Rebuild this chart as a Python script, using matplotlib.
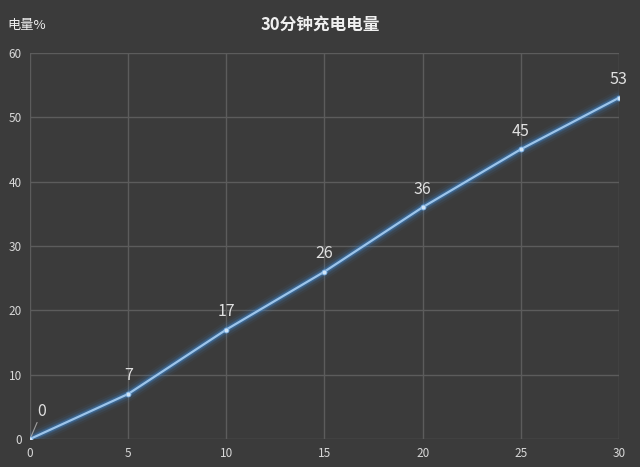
import matplotlib
matplotlib.use('Agg')
import matplotlib.pyplot as plt

plt.rcParams['font.family'] = ['Noto Sans CJK SC', 'DejaVu Sans']

minutes = [0, 5, 10, 15, 20, 25, 30]
charge = [0, 7, 17, 26, 36, 45, 53]

bg = '#3b3b3b'
fig = plt.figure(figsize=(6.4, 4.67), dpi=100, facecolor=bg)
ax = fig.add_axes([0.047, 0.06, 0.92, 0.827], facecolor=bg)

# glow
for lw, a in [(11, 0.05), (8, 0.1), (5, 0.18), (3.5, 0.3)]:
    ax.plot(minutes, charge, color='#3d8fe0', lw=lw, alpha=a, solid_capstyle='round')
ax.plot(minutes, charge, color='#9cc4ea', lw=1.6)
ax.plot(minutes, charge, 'o', color='#cfe4f7', ms=3.5, mec='#7fb3e6', mew=0.6)

for x, y in zip(minutes, charge):
    if x == 0:
        ax.annotate(str(y), xy=(x, y), xytext=(0.6, 3.0), color='#e0e0e0',
                    fontsize=11.5, ha='center', va='bottom',
                    arrowprops=dict(arrowstyle='-', color='#a0a0a0', lw=0.8,
                                    shrinkA=0, shrinkB=2))
    else:
        ax.annotate(str(y), xy=(x, y), xytext=(0, 7), textcoords='offset points',
                    color='#e0e0e0', fontsize=11.5, ha='center', va='bottom')

ax.set_xlim(0, 30)
ax.set_ylim(0, 60)
ax.set_xticks(range(0, 31, 5))
ax.set_yticks(range(0, 61, 10))
ax.grid(True, color='#5c5c5c', lw=1)
ax.set_axisbelow(True)
for s in ax.spines.values():
    s.set_visible(False)
ax.tick_params(colors='#d8d8d8', labelsize=8.5, length=0, pad=6)

fig.text(0.5, 0.948, '30分钟充电电量', color='#f0f0f0', fontsize=12,
         fontweight='bold', ha='center', va='center')
fig.text(0.012, 0.946, '电量%', color='#f0f0f0', fontsize=9.5, ha='left', va='center')

fig.savefig('out.png', dpi=100, facecolor=bg)
